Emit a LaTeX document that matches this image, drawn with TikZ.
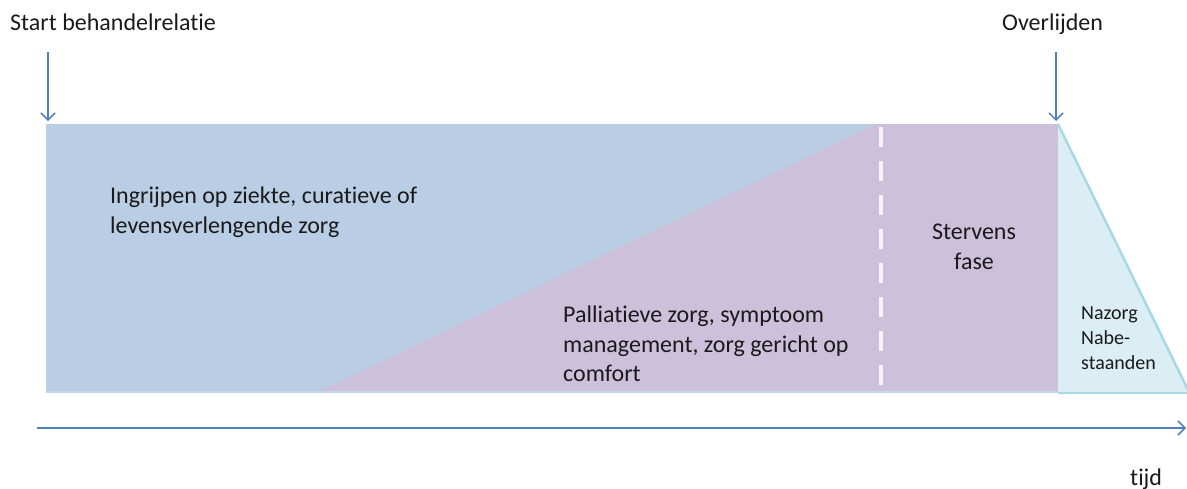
\documentclass[tikz,border=0pt]{standalone}
\usepackage{fontspec}
\setmainfont{Carlito}[Ligatures=NoCommon]
\usetikzlibrary{arrows.meta}
\definecolor{bluefill}{HTML}{B9CDE5}
\definecolor{purplefill}{HTML}{CCC0DA}
\definecolor{nazorgfill}{HTML}{DBEEF4}
\definecolor{nazorgline}{HTML}{A9D8E5}
\definecolor{arrowblue}{HTML}{4F81BD}
\definecolor{dashcol}{HTML}{F4F4F6}
\definecolor{txt}{HTML}{1A1A1A}
\tikzset{
  lbl/.style={inner sep=0pt, text=txt, font=\fontsize{24}{29.5}\selectfont, align=left},
  smalllbl/.style={inner sep=0pt, text=txt, font=\fontsize{20}{25}\selectfont, align=left},
  pointer/.style={draw=arrowblue, line width=1.5pt, -{Straight Barb[length=7pt,width=14pt,line width=1.5pt]}}
}
\begin{document}
\begin{tikzpicture}[x=1pt,y=-1pt]
\useasboundingbox (0,0) rectangle (1187,488);
% phases
\fill[bluefill] (46,124) rectangle (1058,392);
\fill[purplefill] (318,392) -- (876,124) -- (1058,124) -- (1058,392) -- cycle;
\draw[bluefill!80!white, line width=1.5pt] (46,392) -- (1058,392);
\draw[dashcol, line width=4pt, dash pattern=on 20pt off 14pt] (881,127) -- (881,394);
% nazorg
\fill[nazorgfill] (1058,124) -- (1190,394) -- (1058,394) -- cycle;
\draw[nazorgline, line width=2.5pt] (1058,124) -- (1190,394);
\draw[nazorgline, line width=2pt] (1058,393) -- (1190,393);
% labels
\node[lbl, anchor=base west] (start) at (10,30) {Start behandelrelatie};
\node[lbl, anchor=base west] (overl) at (1002,30) {Overlijden};
\node[lbl, anchor=north west] (ingr) at (110,187) {Ingrijpen op ziekte, curatieve of\\levensverlengende zorg};
\node[lbl, anchor=north west] (pall) at (563,306) {Palliatieve zorg, symptoom\\management, zorg gericht op\\comfort};
\node[lbl, anchor=north, align=center] (sterv) at (974,224) {Stervens\\fase};
\node[smalllbl, anchor=north west] (naz) at (1081,306) {Nazorg\\Nabe-\\staanden};
\node[lbl, anchor=base west] (tijd) at (1130,485) {tijd};
% pointers
\coordinate (s1) at (48,52);
\coordinate (s2) at (48,121);
\coordinate (o1) at (1056,52);
\coordinate (o2) at (1056,121);
\coordinate (t1) at (37,428);
\coordinate (t2) at (1186,428);
\draw[pointer] (s1) -- (s2);
\draw[pointer] (o1) -- (o2);
\draw[pointer] (t1) -- (t2);
\end{tikzpicture}
\end{document}
